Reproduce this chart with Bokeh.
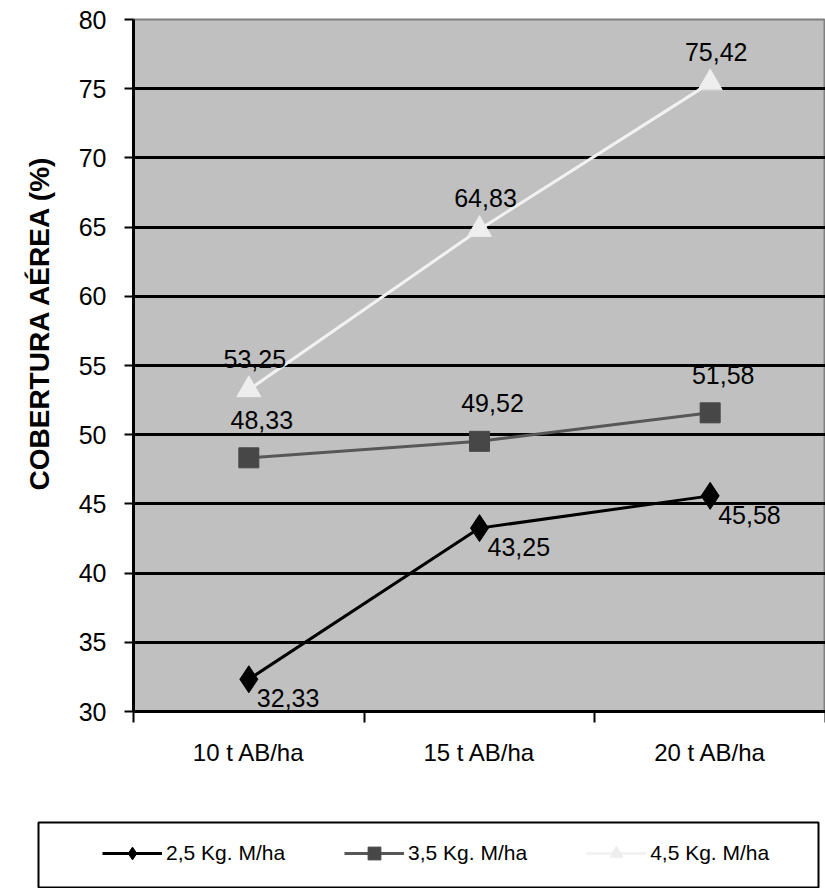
from bokeh.plotting import figure
from bokeh.models import Range1d, FixedTicker, Legend, LegendItem, Title
from bokeh.embed import file_html
from bokeh.resources import INLINE
from bokeh.core.properties import value

# Data
categories = ["10 t AB/ha", "15 t AB/ha", "20 t AB/ha"]
series_names = ["2,5 Kg. M/ha", "3,5 Kg. M/ha", "4,5 Kg. M/ha"]
dose_25 = [32.33, 43.25, 45.58]
dose_35 = [48.33, 49.52, 51.58]
dose_45 = [53.25, 64.83, 75.42]
y_ticks = [30, 35, 40, 45, 50, 55, 60, 65, 70, 75, 80]

FONT = "Liberation Sans"

# series styling: line colour, marker, marker size, marker colour
styles = [
    dict(line="black", marker="diamond", size=27, fill="black"),
    dict(line="#575757", marker="square", size=20, fill="#474747"),
    dict(line="#f2f2f2", marker="triangle", size=24, fill="#eeeeee"),
]
series = [dose_25, dose_35, dose_45]

# each category occupies one unit; points sit in the middle of their slot
x_pos = [i + 0.5 for i in range(len(categories))]
x_bounds = list(range(len(categories) + 1))


def fmt(v):
    return f"{v:.2f}".replace(".", ",")


# ---- main chart -------------------------------------------------------------
p = figure(width=825, height=810,
           x_range=Range1d(0, len(categories)), y_range=Range1d(y_ticks[0], y_ticks[-1]),
           output_backend="svg", toolbar_location=None,
           min_border_left=133, min_border_right=0, min_border_top=19, min_border_bottom=99)

p.background_fill_color = "#c0c0c0"
p.border_fill_color = "white"
p.outline_line_color = "#808080"
p.outline_line_width = 2

p.xgrid.visible = False
p.ygrid.ticker = FixedTicker(ticks=y_ticks[1:-1])
p.ygrid.grid_line_color = "black"
p.ygrid.grid_line_width = 3

yax = p.yaxis[0]
yax.ticker = FixedTicker(ticks=y_ticks)
yax.axis_line_color = "black"
yax.axis_line_width = 3
yax.major_tick_out = 9
yax.major_tick_in = 0
yax.major_tick_line_width = 2
yax.minor_tick_out = 0
yax.minor_tick_in = 0
yax.major_label_text_font = FONT
yax.major_label_text_font_size = "25px"
yax.major_label_text_color = "black"
yax.major_label_standoff = 18

# category labels in the middle of each slot, ticks on the slot boundaries
xax = p.xaxis[0]
xax.ticker = FixedTicker(ticks=x_pos, minor_ticks=x_bounds)
xax.major_label_overrides = {x: c for x, c in zip(x_pos, categories)}
xax.axis_line_color = "black"
xax.axis_line_width = 3
xax.major_tick_out = 0
xax.major_tick_in = 0
xax.minor_tick_out = 11
xax.minor_tick_in = 0
xax.minor_tick_line_width = 2
xax.minor_tick_line_color = "black"
xax.major_label_text_font = FONT
xax.major_label_text_font_size = "24px"
xax.major_label_text_color = "black"
xax.major_label_standoff = 16

for vals, st in zip(series, styles):
    p.line(x_pos, vals, line_color=st["line"], line_width=3)
    p.scatter(x_pos, vals, marker=st["marker"], size=st["size"],
              fill_color=st["fill"], line_color=st["fill"])

# value labels
label_style = dict(text_font=value(FONT), text_font_size="25px", text_color="black",
                   text_baseline="alphabetic")
p.text(x_pos, dose_25, text=[fmt(v) for v in dose_25], text_align="left",
       x_offset=8, y_offset=19, **label_style)
p.text(x_pos, dose_35, text=[fmt(v) for v in dose_35], text_align="center",
       x_offset=13, y_offset=-38, **label_style)
p.text(x_pos, dose_45, text=[fmt(v) for v in dose_45], text_align="center",
       x_offset=6, y_offset=-31, **label_style)

p.add_layout(Title(text="COBERTURA AÉREA (%)", text_font=FONT, text_font_style="bold",
                   text_font_size="28px", text_color="black", align="left",
                   offset=221, standoff=42), "left")

# ---- legend strip: the frame outline is the legend box ----------------------
lg = figure(width=825, height=78,
            x_range=Range1d(-10, -9), y_range=Range1d(-10, -9),
            output_backend="svg", toolbar_location=None,
            x_axis_location=None, y_axis_location=None,
            min_border_left=38, min_border_right=7, min_border_top=12, min_border_bottom=1)
lg.xgrid.visible = False
lg.ygrid.visible = False
lg.background_fill_color = "white"
lg.border_fill_color = "white"
lg.outline_line_color = "black"
lg.outline_line_width = 2

items = []
for name, vals, st in zip(series_names, series, styles):
    ln = lg.line(x_pos, vals, line_color=st["line"], line_width=3)
    mk = lg.scatter(x_pos, vals, marker=st["marker"], size=st["size"],
                    fill_color=st["fill"], line_color=st["fill"])
    items.append(LegendItem(label=name, renderers=[ln, mk]))

legend = Legend(items=items, orientation="horizontal", location=(64, 14),
                glyph_width=60, glyph_height=32, label_height=40,
                label_standoff=4, spacing=59, padding=0, margin=0,
                border_line_alpha=0, background_fill_alpha=0,
                label_text_font=FONT, label_text_font_size="21px",
                label_text_color="black")
lg.add_layout(legend)

open("out.html", "w").write(file_html([p, lg], INLINE))
